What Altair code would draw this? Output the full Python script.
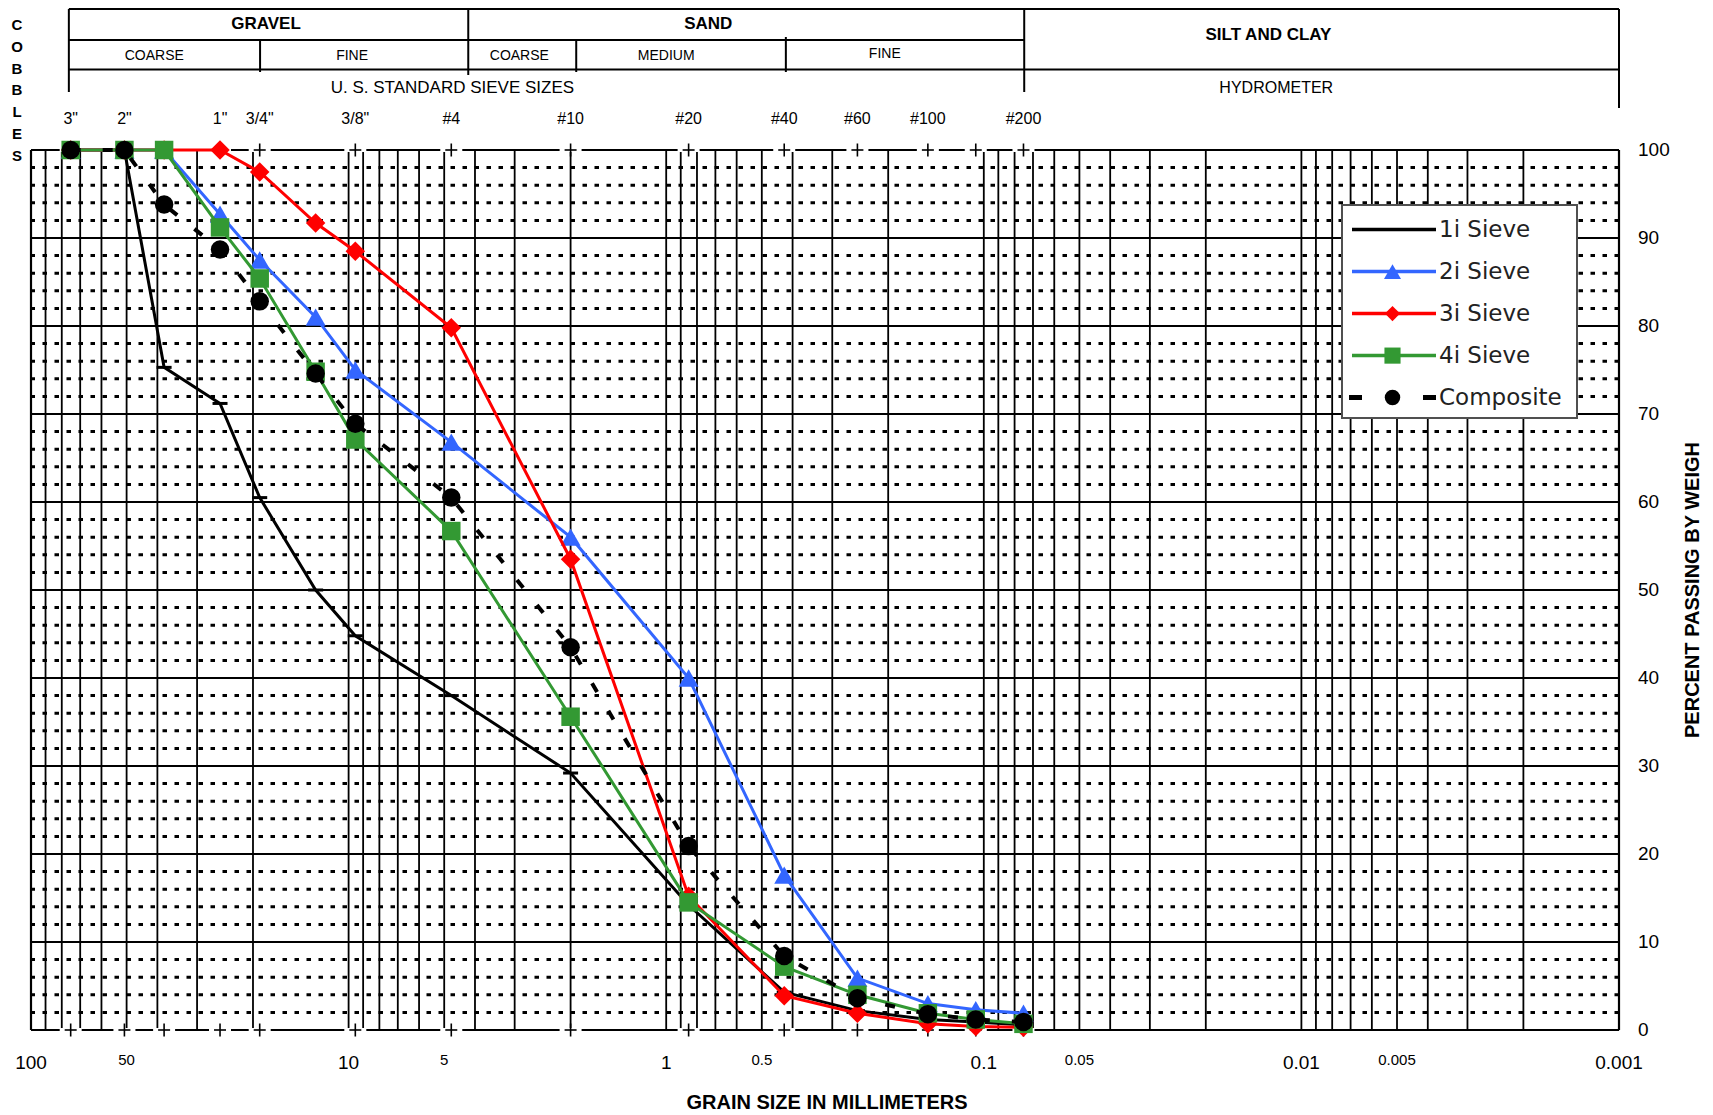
import altair as alt
import pandas as pd

# ---------------- data ----------------
SIEVE_MM = [75, 50.8, 38.1, 25.4, 19.05, 12.7, 9.525, 4.75, 2.0, 0.85, 0.425, 0.25, 0.15, 0.106, 0.075]
SIEVE_1I = [100, 100, 75.3, 71.2, 60.5, 50.0, 44.8, 38.0, 29.2, 14.2, 4.3, 2.2, 1.2, 0.9, 0.6]
SIEVE_2I = [100, 100, 100, 92.7, 87.5, 81.0, 75.0, 66.8, 56.0, 40.0, 17.6, 5.9, 3.0, 2.3, 1.9]
SIEVE_3I = [100, 100, 100, 100, 97.5, 91.7, 88.5, 79.8, 53.5, 15.2, 3.9, 1.9, 0.7, 0.4, 0.3]
SIEVE_4I = [100, 100, 100, 91.2, 85.4, 74.8, 67.1, 56.7, 35.6, 14.5, 7.2, 4.0, 1.9, 1.2, 0.7]
COMPOSITE = [100, 100, 93.8, 88.7, 82.8, 74.6, 68.9, 60.5, 43.5, 20.9, 8.4, 3.6, 1.8, 1.2, 0.9]
SERIES = ["1i Sieve", "2i Sieve", "3i Sieve", "4i Sieve", "Composite"]
VALUES = [SIEVE_1I, SIEVE_2I, SIEVE_3I, SIEVE_4I, COMPOSITE]

SIEVE_LABELS = ['3"', '2"', '1"', '3/4"', '3/8"', '#4', '#10', '#20', '#40', '#60', '#100', '#200']
SIEVE_LABEL_MM = [75, 50.8, 25.4, 19.05, 9.525, 4.75, 2.0, 0.85, 0.425, 0.25, 0.15, 0.075]
SIEVE_TICK_MM = [75, 50.8, 38.1, 25.4, 19.05, 9.525, 4.75, 2.0, 0.85, 0.425, 0.25, 0.15, 0.106, 0.075]
X_MAJOR_VALUES = [100, 10, 1, 0.1, 0.01, 0.001]
X_MAJOR_LABELS = ["100", "10", "1", "0.1", "0.01", "0.001"]
X_MINOR_VALUES = [50, 5, 0.5, 0.05, 0.005]
X_MINOR_LABELS = ["50", "5", "0.5", "0.05", "0.005"]
Y_LABEL_VALUES = [0, 10, 20, 30, 40, 50, 60, 70, 80, 90, 100]
X_TITLE = "GRAIN SIZE IN MILLIMETERS"
Y_TITLE = "PERCENT PASSING BY WEIGH"

# header classification boundaries (grain size, mm)
HDR_LEFT, HDR_GRAVEL_SAND, HDR_SAND_SILT, HDR_RIGHT = 76, 4.2, 0.0746, 0.001
HDR_SUBDIV = [19, 1.92, 0.42]
HDR_TEXTS = [
    ("GRAVEL", 18.2, "big"), ("SAND", 0.737, "big"), ("SILT AND CLAY", 0.0127, "silt"),
    ("COARSE", 40.9, "sub"), ("FINE", 9.75, "sub"), ("COARSE", 2.9, "sub"),
    ("MEDIUM", 1.0, "sub"), ("FINE", 0.205, "sub2"),
    ("U. S. STANDARD SIEVE SIZES", 4.71, "row3"), ("HYDROMETER", 0.012, "row3b"),
]

# ---------------- styles ----------------
STYLE = {
    "1i Sieve": dict(color="#000000", shape=None),
    "2i Sieve": dict(color="#3366ff", shape="triangle-up"),
    "3i Sieve": dict(color="#ff0000", shape="diamond"),
    "4i Sieve": dict(color="#339933", shape="square"),
    "Composite": dict(color="#000000", shape="circle"),
}
FONT = "Liberation Sans"
W, H = 1588, 880

xs = alt.Scale(type="log", domain=[0.001, 100], reverse=True, nice=False)
ys = alt.Scale(domain=[0, 100], nice=False, zero=False)


def xenc(field="mm"):
    return alt.X(f"{field}:Q", scale=xs, axis=None)


def yenc(field="pct"):
    return alt.Y(f"{field}:Q", scale=ys, axis=None)


layers = []
one = pd.DataFrame({"k": [0]})

# ---------------- grid ----------------
grid_v = sorted({round(n * 10.0 ** k, 6) for k in range(-3, 2) for n in range(1, 10)} | {100.0})
layers.append(alt.Chart(pd.DataFrame({"mm": grid_v})).mark_rule(color="black", strokeWidth=1.8)
              .encode(x=xenc()))
layers.append(alt.Chart(pd.DataFrame({"pct": list(range(0, 101, 10))})).mark_rule(color="black", strokeWidth=1.8)
              .encode(y=yenc()))
layers.append(alt.Chart(pd.DataFrame({"pct": [p for p in range(2, 100, 2) if p % 10]}))
              .mark_rule(color="black", strokeWidth=3, strokeDash=[4.5, 7.5]).encode(y=yenc()))
# frame
layers.append(alt.Chart(pd.DataFrame({"pct": [0, 100]})).mark_rule(color="black", strokeWidth=2.2).encode(y=yenc()))
layers.append(alt.Chart(pd.DataFrame({"mm": [100, 0.001]})).mark_rule(color="black", strokeWidth=2.2).encode(x=xenc()))

# sieve "+" ticks top and bottom
tick_df = pd.DataFrame([{"mm": m, "pct": p} for m in SIEVE_TICK_MM for p in (0, 100)])
layers.append(alt.Chart(tick_df).mark_tick(orient="horizontal", size=22, thickness=4, color="white", opacity=1)
              .encode(x=xenc(), y=yenc()))
layers.append(alt.Chart(tick_df).mark_tick(orient="horizontal", size=12, thickness=1.6, color="black", opacity=1)
              .encode(x=xenc(), y=yenc()))
layers.append(alt.Chart(tick_df).mark_tick(orient="vertical", size=13, thickness=1.6, color="black", opacity=1)
              .encode(x=xenc(), y=yenc()))

# ---------------- axis labels & titles ----------------
layers.append(alt.Chart(pd.DataFrame({"mm": X_MAJOR_VALUES, "t": X_MAJOR_LABELS}))
              .mark_text(align="center", baseline="top", fontSize=19, color="black")
              .encode(x=xenc(), y=alt.value(H + 24), text="t:N"))
layers.append(alt.Chart(pd.DataFrame({"mm": X_MINOR_VALUES, "t": X_MINOR_LABELS}))
              .mark_text(align="center", baseline="top", fontSize=15, color="black")
              .encode(x=xenc(), y=alt.value(H + 23), text="t:N"))
layers.append(alt.Chart(pd.DataFrame({"pct": Y_LABEL_VALUES, "t": [str(v) for v in Y_LABEL_VALUES]}))
              .mark_text(align="left", baseline="middle", fontSize=19, color="black")
              .encode(x=alt.value(W + 19), y=yenc(), text="t:N"))
layers.append(alt.Chart(pd.DataFrame({"t": [X_TITLE]}))
              .mark_text(align="center", baseline="middle", fontSize=20, fontWeight="bold", color="black")
              .encode(x=alt.value(796), y=alt.value(H + 73), text="t:N"))
layers.append(alt.Chart(pd.DataFrame({"t": [Y_TITLE]}))
              .mark_text(align="center", baseline="middle", fontSize=20, fontWeight="bold", color="black", angle=270)
              .encode(x=alt.value(W + 74), y=alt.value(440), text="t:N"))

# ---------------- series ----------------
rows = [{"mm": m, "pct": v, "series": s} for s, vals in zip(SERIES, VALUES) for m, v in zip(SIEVE_MM, vals)]
df = pd.DataFrame(rows)

for s in SERIES:
    st = STYLE[s]
    base = alt.Chart(df).transform_filter(alt.datum.series == s)
    if s == "Composite":
        line = base.mark_line(color=st["color"], strokeWidth=4, strokeDash=[10, 22])
    else:
        line = base.mark_line(color=st["color"], strokeWidth=3)
    layers.append(line.encode(x=xenc(), y=yenc()))
    if st["shape"] is None:
        layers.append(base.mark_tick(orient="horizontal", size=15, thickness=3, color="black", opacity=1)
                      .encode(x=xenc(), y=yenc()))
    else:
        size = {"triangle-up": 400, "diamond": 380, "square": 342, "circle": 342}[st["shape"]]
        layers.append(base.mark_point(shape=st["shape"], filled=True, size=size, color=st["color"],
                                      opacity=1, strokeWidth=0)
                      .encode(x=xenc(), y=yenc()))

# ---------------- legend (inside plot) ----------------
layers.append(alt.Chart(one).mark_rect(fill="white", stroke="#505050", strokeWidth=2)
              .encode(x=alt.value(1311), x2=alt.value(1546), y=alt.value(55), y2=alt.value(268)))
for i, s in enumerate(SERIES):
    st = STYLE[s]
    yy = 79.6 + i * 42.0
    leg = alt.Chart(pd.DataFrame({"series": [s]}))
    if s == "Composite":
        layers.append(leg.mark_rule(color="black", strokeWidth=5, strokeDash=[13, 61])
                      .encode(x=alt.value(1318), x2=alt.value(1405), y=alt.value(yy)))
    else:
        layers.append(leg.mark_rule(color=st["color"], strokeWidth=3.5)
                      .encode(x=alt.value(1321), x2=alt.value(1405), y=alt.value(yy)))
    if st["shape"] is not None:
        lsize = {"triangle-up": 290, "diamond": 230, "square": 260, "circle": 240}[st["shape"]]
        layers.append(leg.mark_point(shape=st["shape"], filled=True, size=lsize, color=st["color"],
                                     opacity=1, strokeWidth=0)
                      .encode(x=alt.value(1361.5), y=alt.value(yy)))
    layers.append(leg.mark_text(align="left", baseline="middle", fontSize=23, font="DejaVu Sans", color="#222222")
                  .encode(x=alt.value(1408), y=alt.value(yy), text="series:N"))

# ---------------- header table above the plot ----------------
def vrule(mms, y0, y1):
    return (alt.Chart(pd.DataFrame({"mm": mms})).mark_rule(color="black", strokeWidth=2)
            .encode(x=xenc(), y=alt.value(y0), y2=alt.value(y1)))


def hrule(a, b, y):
    return (alt.Chart(pd.DataFrame({"a": [a], "b": [b]})).mark_rule(color="black", strokeWidth=2)
            .encode(x=xenc("a"), x2="b:Q", y=alt.value(y)))


layers.append(vrule([HDR_LEFT, HDR_SAND_SILT], -141, -58))
layers.append(vrule([HDR_GRAVEL_SAND], -141, -75))
layers.append(vrule([HDR_RIGHT], -141, -42))
layers.append(vrule(HDR_SUBDIV[:2], -110, -78))
layers.append(vrule(HDR_SUBDIV[2:], -113, -78))
layers.append(hrule(HDR_LEFT, HDR_RIGHT, -141))
layers.append(hrule(HDR_LEFT, HDR_SAND_SILT, -110))
layers.append(hrule(HDR_LEFT, HDR_RIGHT, -80.5))

HDR_STYLE = {
    "big": dict(y=-126, size=17, weight="bold"),
    "silt": dict(y=-115, size=17, weight="bold"),
    "sub": dict(y=-94, size=14, weight="normal"),
    "sub2": dict(y=-96, size=14, weight="normal"),
    "row3": dict(y=-62.5, size=17, weight="normal"),
    "row3b": dict(y=-62.5, size=16, weight="normal"),
}
for label, mm, kind in HDR_TEXTS:
    hs = HDR_STYLE[kind]
    layers.append(alt.Chart(pd.DataFrame({"mm": [mm], "t": [label]}))
                  .mark_text(align="center", baseline="middle", fontSize=hs["size"], fontWeight=hs["weight"],
                             color="black")
                  .encode(x=xenc(), y=alt.value(hs["y"]), text="t:N"))

layers.append(alt.Chart(pd.DataFrame({"mm": SIEVE_LABEL_MM, "t": SIEVE_LABELS}))
              .mark_text(align="center", baseline="middle", fontSize=16, color="black")
              .encode(x=xenc(), y=alt.value(-30.7), text="t:N"))

layers.append(alt.Chart(one).mark_text(align="center", baseline="top", fontSize=15, fontWeight="bold",
                                       lineBreak="\n", lineHeight=21.8, color="black")
              .encode(x=alt.value(-14), y=alt.value(-132), text=alt.value("C\nO\nB\nB\nL\nE\nS")))

chart = (
    alt.layer(*layers)
    .properties(width=W, height=H, autosize=alt.AutoSizeParams(type="none"),
                padding={"left": 31, "top": 150, "right": 94, "bottom": 85},
                background="white")
    .configure_view(strokeWidth=0)
    .configure(font=FONT)
)

chart.save("out.html", embed_options={"renderer": "svg", "actions": False})
